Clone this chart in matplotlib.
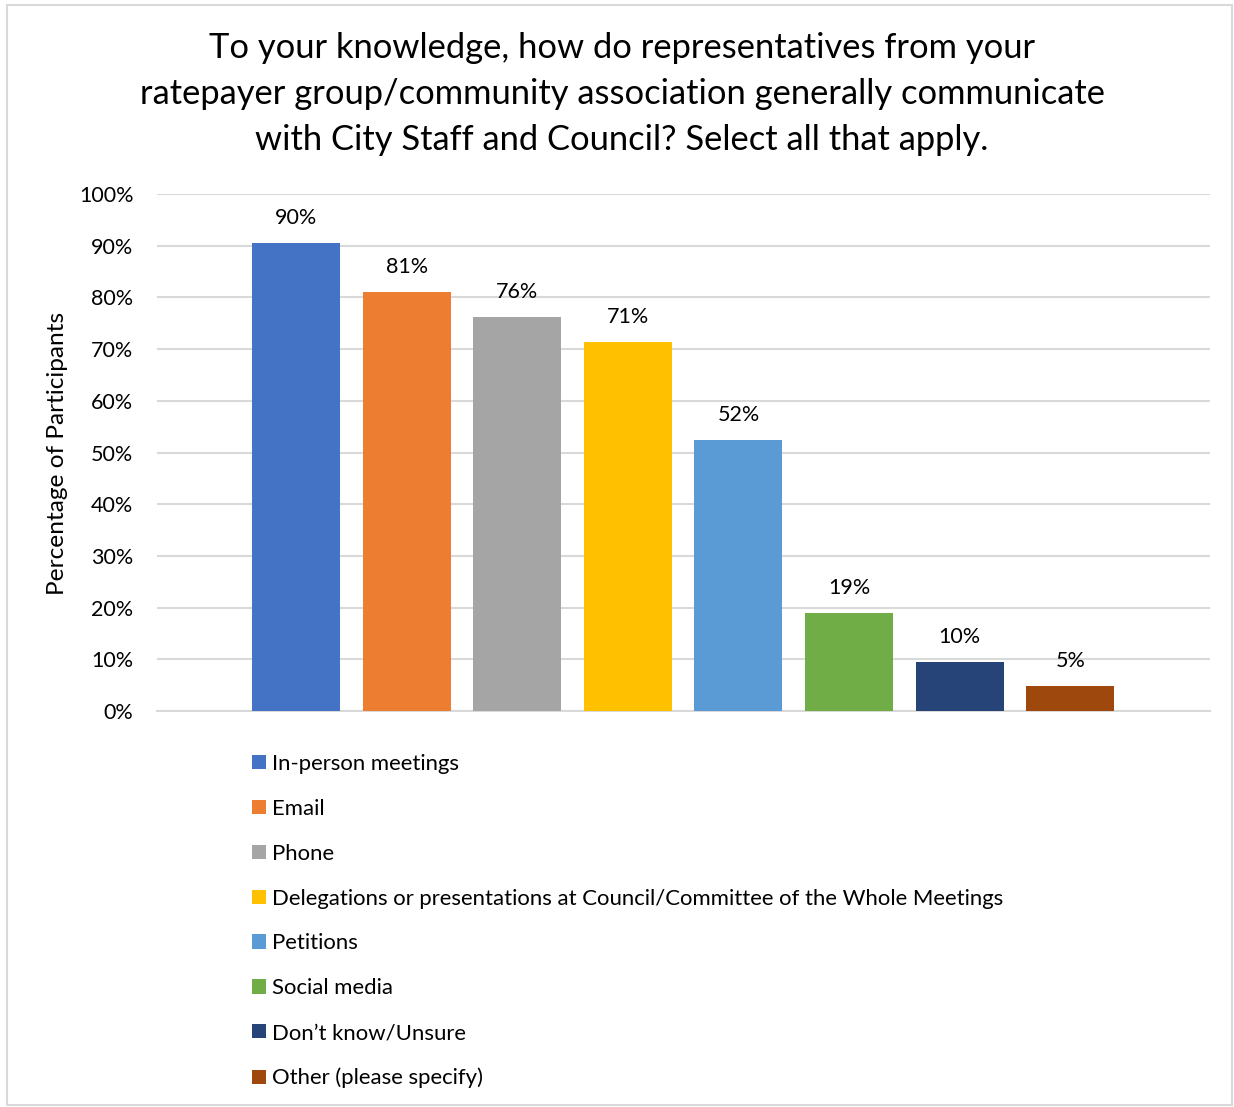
import matplotlib
matplotlib.use("Agg")
import matplotlib.pyplot as plt
from matplotlib.patches import Rectangle

# Survey answers (share of participants, one bar per answer)
answers = ['In-person meetings', 'Email', 'Phone',
           'Delegations or presentations at Council/Committee of the Whole Meetings',
           'Petitions', 'Social media', 'Don\u2019t know/Unsure', 'Other (please specify)']
shares = [0.905, 0.810, 0.762, 0.714, 0.524, 0.190, 0.095, 0.048]
colours = ['#4472C4', '#ED7D31', '#A5A5A5', '#FFC000',
           '#5B9BD5', '#70AD47', '#264478', '#9E480E']
yticks = [0, 0.1, 0.2, 0.3, 0.4, 0.5, 0.6, 0.7, 0.8, 0.9, 1.0]

title = ('To your knowledge, how do representatives from your\n'
         'ratepayer group/community association generally communicate\n'
         'with City Staff and Council? Select all that apply.')

plt.rcParams['font.family'] = ['Lato', 'DejaVu Sans']
text_col = '#000000'
grid_col = '#D9D9D9'

fig = plt.figure(figsize=(12.34, 11.07), dpi=100)
fig.patch.set_facecolor('white')

# thin grey frame round the chart area
fig.patches.append(Rectangle((7 / 1234, 2 / 1107), 1225 / 1234, 1100 / 1107,
                             transform=fig.transFigure, fill=False,
                             edgecolor='#D9D9D9', linewidth=1.5))

ax = fig.add_axes([0.1272, 0.3577, 0.8534, 0.4670])

xs = list(range(len(answers)))
bars = ax.bar(xs, shares, width=0.795, color=colours, label=answers, zorder=3)

for x, v in zip(xs, shares):
    ax.annotate(f'{v:.0%}', (x, v), xytext=(0, 11), textcoords='offset points',
                ha='center', va='bottom', fontsize=15.5, color=text_col)

ax.set_xlim(-1.257, 8.264)
ax.set_ylim(0, 1.0)
ax.set_yticks(yticks)
ax.set_yticklabels([f'{t:.0%}' for t in yticks], fontsize=15.5, color=text_col)
ax.set_xticks([])
ax.tick_params(axis='y', length=0, pad=17)
ax.grid(axis='y', color=grid_col, linewidth=1.5, zorder=0)
for s in ['top', 'right', 'left']:
    ax.spines[s].set_visible(False)
ax.spines['bottom'].set_color(grid_col)
ax.spines['bottom'].set_linewidth(1.5)

fig.text(58 / 1234, 1 - 453 / 1107, 'Percentage of Participants', rotation=90,
         ha='center', va='center', fontsize=17.6, color=text_col)

fig.text(622 / 1234, 1 - 94 / 1107, title, ha='center', va='center',
         fontsize=24.8, color=text_col, linespacing=1.54)

leg = fig.legend(handles=bars, labels=answers, loc='upper left',
                 bbox_to_anchor=(252 / 1234, 1 - 754 / 1107),
                 frameon=False, fontsize=15.9, handlelength=0.62,
                 handleheight=0.62, handletextpad=0.3, labelspacing=1.125,
                 borderpad=0, borderaxespad=0)

plt.savefig('out.png', dpi=100)
